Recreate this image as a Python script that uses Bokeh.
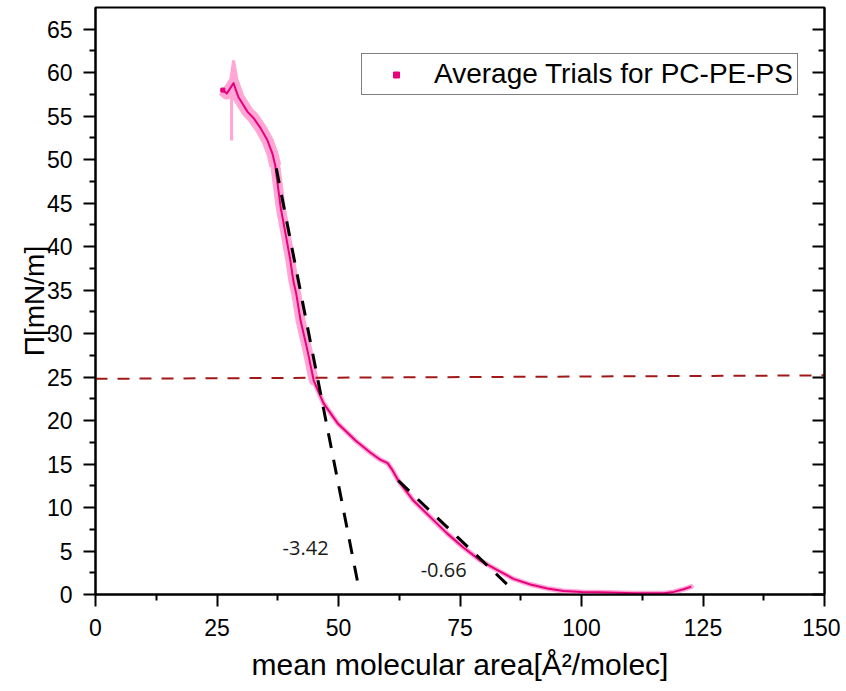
from bokeh.plotting import figure
from bokeh.models import Range1d, LinearAxis, Legend, LegendItem, FixedTicker, ColumnDataSource
from bokeh.core.properties import value
from bokeh.embed import file_html
from bokeh.resources import INLINE

# ---- data ----
area = [26.2, 27.0, 28.4, 29.4, 31.3, 32.5, 34.0, 35.4, 36.4, 37.0, 38.1, 39.1, 40.1, 40.7,
        41.3, 42.2, 43.6, 44.9, 46.9, 49.8, 53.5, 56.6, 58.6, 60.1, 61.1, 62.3, 65.4, 68.9,
        72.4, 75.7, 79.2, 82.7, 86.0, 89.5, 93.0, 96.3, 100.0, 103.5, 107.4, 111.0, 114.2,
        117.0, 119.0, 121.0, 122.6]
pressure = [58.0, 57.6, 58.8, 57.2, 55.5, 54.8, 53.6, 52.2, 50.7, 49.3, 44.5, 41.5, 38.4, 36.1,
            34.6, 31.5, 28.1, 24.6, 22.0, 19.7, 17.7, 16.3, 15.5, 15.1, 14.3, 13.1, 10.8, 8.9,
            7.0, 5.4, 3.9, 2.8, 1.8, 1.15, 0.7, 0.4, 0.3, 0.25, 0.2, 0.15, 0.15,
            0.15, 0.3, 0.6, 0.9]
# spread of the trials (light band), top part
peak_x = [27.4, 28.4, 29.8]
peak_y = [57.5, 61.4, 57.0]
spike_x = [28.0, 28.0]
spike_y = [57.5, 52.2]

# tangent fits
fit1_x = [37.2, 54.3]
fit1_y = [49.0, 0.4]
fit2_x = [62.3, 85.0]
fit2_y = [13.1, 1.0]
fit_labels = ["-3.42", "-0.66"]
fit_label_x = [38.5, 66.9]
fit_label_y = [5.4, 2.76]

ref_x = [0, 150]
ref_y = [24.8, 25.2]

x_ticks = [0, 25, 50, 75, 100, 125, 150]
y_ticks = list(range(0, 70, 5))

DARK = "#e8007d"
LIGHT = "#ffa6d5"

p = figure(width=840, height=685, output_backend="svg", toolbar_location=None,
           x_range=Range1d(0, 150), y_range=Range1d(0, 67.5),
           min_border_left=95, min_border_right=16, min_border_top=7, min_border_bottom=91)
p.grid.visible = False
p.outline_line_color = "black"
p.outline_line_width = 2
p.background_fill_color = "white"

xt = FixedTicker(ticks=x_ticks, minor_ticks=[t + 12.5 for t in x_ticks[:-1]])
yt = FixedTicker(ticks=y_ticks, minor_ticks=[t + 2.5 for t in y_ticks[:-1]])

for ax in (p.xaxis[0], p.yaxis[0]):
    ax.axis_line_width = 2
    ax.major_tick_line_width = 2
    ax.minor_tick_line_width = 2
    ax.major_tick_out = 12
    ax.major_tick_in = 0
    ax.minor_tick_out = 6
    ax.minor_tick_in = 0
    ax.major_label_text_font = "Liberation Sans"
    ax.major_label_text_font_size = "23px"
    ax.major_label_text_color = "black"
    ax.axis_label_text_font = "Liberation Sans"
    ax.axis_label_text_font_style = "normal"
    ax.axis_label_text_color = "black"

p.xaxis[0].ticker = xt
p.yaxis[0].ticker = yt
p.xaxis[0].major_label_standoff = 12
p.yaxis[0].major_label_standoff = 11
p.xaxis[0].axis_label = "mean molecular area[Å²/molec]"
p.xaxis[0].axis_label_text_font_size = "30px"
p.xaxis[0].axis_label_standoff = 9
p.yaxis[0].axis_label = "Π[mN/m]"
p.yaxis[0].axis_label_text_font_size = "28px"
p.yaxis[0].axis_label_standoff = -6

right = LinearAxis(ticker=yt, major_label_overrides={t: "" for t in y_ticks})
right.axis_line_width = 2
right.major_tick_line_width = 2
right.minor_tick_line_width = 2
right.major_tick_in = 12
right.major_tick_out = 0
right.minor_tick_in = 6
right.minor_tick_out = 0
right.major_label_standoff = 0
right.major_label_text_font_size = "1px"
p.add_layout(right, "right")

# light band of the trial spread
p.patch(peak_x, peak_y, fill_color=LIGHT, line_color=LIGHT, line_width=3)
p.line(spike_x, spike_y, line_color=LIGHT, line_width=3)
p.line(area[:10], pressure[:10], line_color=LIGHT, line_width=12, line_join="round")
p.line(area[5:18], pressure[5:18], line_color=LIGHT, line_width=10, line_join="round", line_cap="round")
p.line(area, pressure, line_color=LIGHT, line_width=5, line_join="round", line_cap="round")
# average
p.line(area, pressure, line_color=DARK, line_width=2, line_join="round")

# reference line and fits
p.line(ref_x, ref_y, line_color="#a01818", line_width=2, line_dash="12 10")
p.line(fit1_x, fit1_y, line_color="black", line_width=3, line_dash="15 12")
p.line(fit2_x, fit2_y, line_color="black", line_width=3, line_dash="15 12")

src = ColumnDataSource(dict(x=fit_label_x, y=fit_label_y, t=fit_labels))
p.text(x="x", y="y", text="t", source=src, text_font=value("Open Sans"),
       text_font_size="20px", text_color="#1a1a1a", text_baseline="middle", text_align="left")

# legend (marker renderer sits on the first averaged point)
leg_r = p.scatter(x=area[:1], y=pressure[:1], marker="square", size=4, color=DARK)
legend = Legend(items=[LegendItem(label="Average Trials for PC-PE-PS", renderers=[leg_r])],
                location=(266, 499), orientation="vertical")
legend.border_line_color = "black"
legend.border_line_width = 1
legend.label_text_font = "Liberation Sans"
legend.label_text_font_size = "28px"
legend.label_text_color = "black"
legend.glyph_width = 60
legend.glyph_height = 15
legend.label_height = 30
legend.label_standoff = 8
legend.padding = 4
legend.spacing = 0
legend.margin = 0
legend.background_fill_alpha = 1
p.add_layout(legend, "center")

open("out.html", "w").write(file_html(p, INLINE))
